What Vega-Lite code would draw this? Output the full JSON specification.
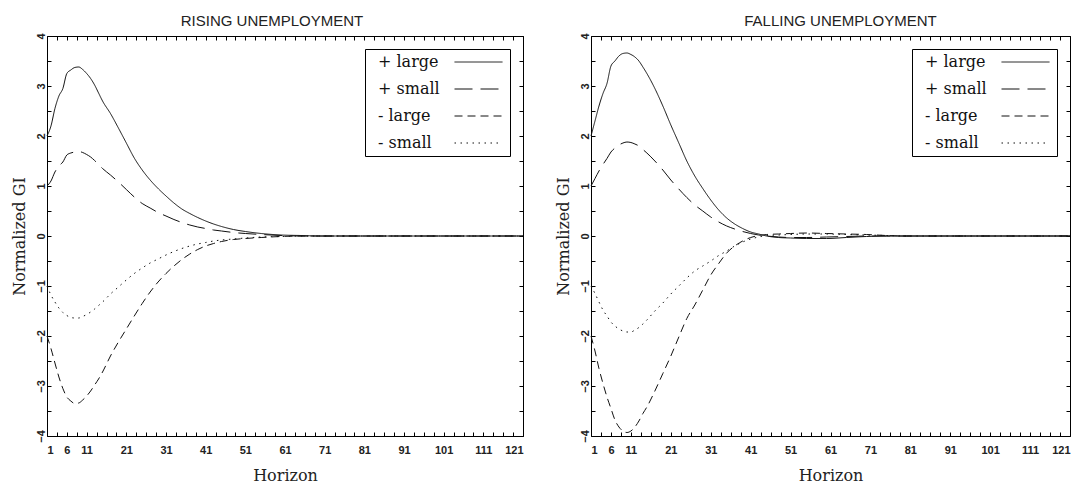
{
  "$schema": "https://vega.github.io/schema/vega-lite/v6.json",
  "background": "white",
  "padding": {"left": 10, "top": 13, "right": 5, "bottom": 5},
  "config": {
    "view": {"stroke": "#000", "strokeWidth": 1},
    "font": "Liberation Sans",
    "concat": {"spacing": 28},
    "axis": {"domain": false, "grid": false, "tickColor": "#000", "tickSize": -4, "tickWidth": 1, "labelColor": "#222", "labelFont": "Liberation Sans", "labelFontSize": 11, "labelFontWeight": "bold", "titleFont": "DejaVu Serif", "titleFontSize": 16, "titleFontWeight": "normal", "titleColor": "#222"},
    "legend": {"orient": "top-right", "offset": 13, "title": null, "symbolType": "M12.75,0H20.75", "symbolSize": 144, "symbolStrokeWidth": 1, "symbolStrokeColor": "#111", "labelFont": "DejaVu Serif", "labelFontSize": 16, "labelColor": "#111", "labelOffset": -8, "labelAlign": "left", "strokeColor": "#000", "fillColor": "white", "padding": 5, "rowPadding": 11, "labelLimit": 0},
    "title": {"font": "Liberation Sans", "fontSize": 15, "fontWeight": "normal", "color": "#222", "offset": 4}
  },
  "datasets": {
    "rising": [
      {"h": 1, "pl": 2.0, "ps": 1.0, "nl": -2.0, "ns": -1.0},
      {"h": 2, "pl": 2.2, "ps": 1.1, "nl": -2.25, "ns": -1.18},
      {"h": 3, "pl": 2.55, "ps": 1.28, "nl": -2.54, "ns": -1.32},
      {"h": 4, "pl": 2.8, "ps": 1.4, "nl": -2.82, "ns": -1.44},
      {"h": 5, "pl": 2.95, "ps": 1.48, "nl": -3.05, "ns": -1.53},
      {"h": 6, "pl": 3.25, "ps": 1.62, "nl": -3.22, "ns": -1.59},
      {"h": 7, "pl": 3.32, "ps": 1.66, "nl": -3.3, "ns": -1.63},
      {"h": 8, "pl": 3.37, "ps": 1.68, "nl": -3.35, "ns": -1.64},
      {"h": 9, "pl": 3.38, "ps": 1.69, "nl": -3.34, "ns": -1.64},
      {"h": 10, "pl": 3.33, "ps": 1.67, "nl": -3.28, "ns": -1.61},
      {"h": 11, "pl": 3.25, "ps": 1.63, "nl": -3.2, "ns": -1.57},
      {"h": 12, "pl": 3.15, "ps": 1.58, "nl": -3.1, "ns": -1.52},
      {"h": 13, "pl": 3.02, "ps": 1.51, "nl": -2.98, "ns": -1.46},
      {"h": 14, "pl": 2.86, "ps": 1.43, "nl": -2.86, "ns": -1.39},
      {"h": 15, "pl": 2.7, "ps": 1.35, "nl": -2.72, "ns": -1.32},
      {"h": 17, "pl": 2.45, "ps": 1.22, "nl": -2.4, "ns": -1.16},
      {"h": 19, "pl": 2.16, "ps": 1.08, "nl": -2.12, "ns": -1.02},
      {"h": 21, "pl": 1.86, "ps": 0.93, "nl": -1.86, "ns": -0.88},
      {"h": 23, "pl": 1.56, "ps": 0.78, "nl": -1.6, "ns": -0.75},
      {"h": 25, "pl": 1.32, "ps": 0.65, "nl": -1.35, "ns": -0.64},
      {"h": 27, "pl": 1.12, "ps": 0.56, "nl": -1.12, "ns": -0.54},
      {"h": 29, "pl": 0.95, "ps": 0.47, "nl": -0.92, "ns": -0.46},
      {"h": 31, "pl": 0.8, "ps": 0.4, "nl": -0.75, "ns": -0.38},
      {"h": 33, "pl": 0.66, "ps": 0.33, "nl": -0.6, "ns": -0.31},
      {"h": 35, "pl": 0.54, "ps": 0.27, "nl": -0.47, "ns": -0.25},
      {"h": 37, "pl": 0.45, "ps": 0.22, "nl": -0.36, "ns": -0.2},
      {"h": 39, "pl": 0.37, "ps": 0.18, "nl": -0.27, "ns": -0.16},
      {"h": 41, "pl": 0.3, "ps": 0.15, "nl": -0.2, "ns": -0.13},
      {"h": 43, "pl": 0.24, "ps": 0.12, "nl": -0.15, "ns": -0.1},
      {"h": 45, "pl": 0.19, "ps": 0.1, "nl": -0.11, "ns": -0.08},
      {"h": 48, "pl": 0.13, "ps": 0.07, "nl": -0.07, "ns": -0.06},
      {"h": 51, "pl": 0.09, "ps": 0.05, "nl": -0.05, "ns": -0.04},
      {"h": 55, "pl": 0.05, "ps": 0.03, "nl": -0.03, "ns": -0.02},
      {"h": 60, "pl": 0.02, "ps": 0.01, "nl": -0.01, "ns": -0.01},
      {"h": 65, "pl": 0.01, "ps": 0.0, "nl": 0.0, "ns": 0.0},
      {"h": 70, "pl": 0.0, "ps": 0.0, "nl": 0.0, "ns": 0.0},
      {"h": 80, "pl": 0.0, "ps": 0.0, "nl": 0.0, "ns": 0.0},
      {"h": 121, "pl": 0.0, "ps": 0.0, "nl": 0.0, "ns": 0.0}
    ],
    "falling": [
      {"h": 1, "pl": 2.0, "ps": 1.0, "nl": -2.0, "ns": -1.0},
      {"h": 2, "pl": 2.3, "ps": 1.15, "nl": -2.3, "ns": -1.15},
      {"h": 3, "pl": 2.6, "ps": 1.3, "nl": -2.65, "ns": -1.32},
      {"h": 4, "pl": 2.85, "ps": 1.43, "nl": -2.95, "ns": -1.48},
      {"h": 5, "pl": 3.05, "ps": 1.55, "nl": -3.22, "ns": -1.6},
      {"h": 6, "pl": 3.4, "ps": 1.68, "nl": -3.45, "ns": -1.72},
      {"h": 7, "pl": 3.5, "ps": 1.76, "nl": -3.68, "ns": -1.8},
      {"h": 8, "pl": 3.6, "ps": 1.82, "nl": -3.82, "ns": -1.86},
      {"h": 9, "pl": 3.65, "ps": 1.86, "nl": -3.9, "ns": -1.9},
      {"h": 10, "pl": 3.66, "ps": 1.88, "nl": -3.93, "ns": -1.92},
      {"h": 11, "pl": 3.63, "ps": 1.87, "nl": -3.9, "ns": -1.92},
      {"h": 12, "pl": 3.58, "ps": 1.84, "nl": -3.82, "ns": -1.88},
      {"h": 13, "pl": 3.5, "ps": 1.8, "nl": -3.7, "ns": -1.83},
      {"h": 14, "pl": 3.38, "ps": 1.73, "nl": -3.55, "ns": -1.76},
      {"h": 15, "pl": 3.25, "ps": 1.66, "nl": -3.42, "ns": -1.68},
      {"h": 17, "pl": 2.95, "ps": 1.5, "nl": -3.1, "ns": -1.5},
      {"h": 19, "pl": 2.6, "ps": 1.32, "nl": -2.75, "ns": -1.34},
      {"h": 21, "pl": 2.22, "ps": 1.12, "nl": -2.4, "ns": -1.16},
      {"h": 23, "pl": 1.86, "ps": 0.94, "nl": -2.02, "ns": -1.0},
      {"h": 25, "pl": 1.5, "ps": 0.77, "nl": -1.65, "ns": -0.84},
      {"h": 27, "pl": 1.2, "ps": 0.62, "nl": -1.38, "ns": -0.7},
      {"h": 29, "pl": 0.95, "ps": 0.5, "nl": -1.08, "ns": -0.6},
      {"h": 31, "pl": 0.72, "ps": 0.38, "nl": -0.78, "ns": -0.5},
      {"h": 33, "pl": 0.52, "ps": 0.28, "nl": -0.55, "ns": -0.39},
      {"h": 35, "pl": 0.36, "ps": 0.2, "nl": -0.34, "ns": -0.3},
      {"h": 37, "pl": 0.24, "ps": 0.14, "nl": -0.2, "ns": -0.2},
      {"h": 39, "pl": 0.15, "ps": 0.09, "nl": -0.1, "ns": -0.12},
      {"h": 41, "pl": 0.08, "ps": 0.05, "nl": -0.03, "ns": -0.06},
      {"h": 43, "pl": 0.04, "ps": 0.02, "nl": 0.01, "ns": -0.02},
      {"h": 45, "pl": 0.0, "ps": 0.0, "nl": 0.03, "ns": 0.01},
      {"h": 48, "pl": -0.03, "ps": -0.02, "nl": 0.04, "ns": 0.02},
      {"h": 51, "pl": -0.04, "ps": -0.03, "nl": 0.05, "ns": 0.03},
      {"h": 55, "pl": -0.05, "ps": -0.03, "nl": 0.06, "ns": 0.04},
      {"h": 60, "pl": -0.05, "ps": -0.02, "nl": 0.05, "ns": 0.04},
      {"h": 65, "pl": -0.03, "ps": -0.01, "nl": 0.04, "ns": 0.03},
      {"h": 70, "pl": -0.01, "ps": 0.0, "nl": 0.03, "ns": 0.02},
      {"h": 75, "pl": 0.0, "ps": 0.0, "nl": 0.01, "ns": 0.01},
      {"h": 80, "pl": 0.0, "ps": 0.0, "nl": 0.0, "ns": 0.0},
      {"h": 121, "pl": 0.0, "ps": 0.0, "nl": 0.0, "ns": 0.0}
    ]
  },
  "hconcat": [
    {
      "title": {"text": "RISING UNEMPLOYMENT", "dx": -13},
      "width": 476,
      "height": 400,
      "data": {"name": "rising"},
      "transform": [{"fold": ["pl", "ps", "nl", "ns"], "as": ["s", "v"]}],
      "layer": [
        {
          "mark": {"type": "line", "color": "#111", "strokeWidth": 1, "interpolate": "monotone"},
          "encoding": {
            "x": {"field": "h", "type": "quantitative", "scale": {"domain": [1, 121], "nice": false, "zero": false},
              "axis": {"orient": "bottom", "title": "Horizon", "labelPadding": 12, "titlePadding": 12,
                "values": [1,3.5,6,8.5,11,13.5,16,18.5,21,23.5,26,28.5,31,33.5,36,38.5,41,43.5,46,48.5,51,53.5,56,58.5,61,63.5,66,68.5,71,73.5,76,78.5,81,83.5,86,88.5,91,93.5,96,98.5,101,103.5,106,108.5,111,113.5,116,118.5,121],
                "labelExpr": "indexof([1,6,11,21,31,41,51,61,71,81,91,101,111,121], datum.value) >= 0 ? format(datum.value, 'd') : ''"}},
            "y": {"field": "v", "type": "quantitative", "scale": {"domain": [-4, 4], "nice": false, "zero": false},
              "axis": {"orient": "left", "title": "Normalized GI", "labelAngle": 270, "labelPadding": 5, "titlePadding": 8,
                "values": [-4,-3.5,-3,-2.5,-2,-1.5,-1,-0.5,0,0.5,1,1.5,2,2.5,3,3.5,4],
                "labelExpr": "datum.value % 1 === 0 ? format(datum.value, 'd') : ''"}},
            "strokeDash": {"field": "s", "type": "nominal", "sort": null,
              "scale": {"domain": ["pl", "ps", "nl", "ns"], "range": [[1, 0], [18, 8], [8, 5], [1.5, 4.5]]},
              "legend": {"labelExpr": "{'pl': '+ large', 'ps': '+ small', 'nl': '- large', 'ns': '- small'}[datum.value]"}}
          }
        },
        {
          "mark": {"type": "line", "opacity": 0},
          "encoding": {
            "x": {"field": "h", "type": "quantitative", "scale": {"domain": [1, 121], "nice": false, "zero": false},
              "axis": {"orient": "top", "title": null, "labels": false,
                "values": [1,3.5,6,8.5,11,13.5,16,18.5,21,23.5,26,28.5,31,33.5,36,38.5,41,43.5,46,48.5,51,53.5,56,58.5,61,63.5,66,68.5,71,73.5,76,78.5,81,83.5,86,88.5,91,93.5,96,98.5,101,103.5,106,108.5,111,113.5,116,118.5,121]}},
            "y": {"field": "v", "type": "quantitative", "scale": {"domain": [-4, 4], "nice": false, "zero": false},
              "axis": {"orient": "right", "title": null, "labels": false,
                "values": [-4,-3.5,-3,-2.5,-2,-1.5,-1,-0.5,0,0.5,1,1.5,2,2.5,3,3.5,4]}},
            "detail": {"field": "s", "type": "nominal"}
          }
        }
      ],
      "resolve": {"axis": {"x": "independent", "y": "independent"}}
    },
    {
      "title": {"text": "FALLING UNEMPLOYMENT", "dx": 10},
      "width": 479,
      "height": 400,
      "data": {"name": "falling"},
      "transform": [{"fold": ["pl", "ps", "nl", "ns"], "as": ["s", "v"]}],
      "layer": [
        {
          "mark": {"type": "line", "color": "#111", "strokeWidth": 1, "interpolate": "monotone"},
          "encoding": {
            "x": {"field": "h", "type": "quantitative", "scale": {"domain": [1, 121], "nice": false, "zero": false},
              "axis": {"orient": "bottom", "title": "Horizon", "labelPadding": 12, "titlePadding": 12,
                "values": [1,3.5,6,8.5,11,13.5,16,18.5,21,23.5,26,28.5,31,33.5,36,38.5,41,43.5,46,48.5,51,53.5,56,58.5,61,63.5,66,68.5,71,73.5,76,78.5,81,83.5,86,88.5,91,93.5,96,98.5,101,103.5,106,108.5,111,113.5,116,118.5,121],
                "labelExpr": "indexof([1,6,11,21,31,41,51,61,71,81,91,101,111,121], datum.value) >= 0 ? format(datum.value, 'd') : ''"}},
            "y": {"field": "v", "type": "quantitative", "scale": {"domain": [-4, 4], "nice": false, "zero": false},
              "axis": {"orient": "left", "title": "Normalized GI", "labelAngle": 270, "labelPadding": 5, "titlePadding": 8,
                "values": [-4,-3.5,-3,-2.5,-2,-1.5,-1,-0.5,0,0.5,1,1.5,2,2.5,3,3.5,4],
                "labelExpr": "datum.value % 1 === 0 ? format(datum.value, 'd') : ''"}},
            "strokeDash": {"field": "s", "type": "nominal", "sort": null,
              "scale": {"domain": ["pl", "ps", "nl", "ns"], "range": [[1, 0], [18, 8], [8, 5], [1.5, 4.5]]},
              "legend": {"labelExpr": "{'pl': '+ large', 'ps': '+ small', 'nl': '- large', 'ns': '- small'}[datum.value]"}}
          }
        },
        {
          "mark": {"type": "line", "opacity": 0},
          "encoding": {
            "x": {"field": "h", "type": "quantitative", "scale": {"domain": [1, 121], "nice": false, "zero": false},
              "axis": {"orient": "top", "title": null, "labels": false,
                "values": [1,3.5,6,8.5,11,13.5,16,18.5,21,23.5,26,28.5,31,33.5,36,38.5,41,43.5,46,48.5,51,53.5,56,58.5,61,63.5,66,68.5,71,73.5,76,78.5,81,83.5,86,88.5,91,93.5,96,98.5,101,103.5,106,108.5,111,113.5,116,118.5,121]}},
            "y": {"field": "v", "type": "quantitative", "scale": {"domain": [-4, 4], "nice": false, "zero": false},
              "axis": {"orient": "right", "title": null, "labels": false,
                "values": [-4,-3.5,-3,-2.5,-2,-1.5,-1,-0.5,0,0.5,1,1.5,2,2.5,3,3.5,4]}},
            "detail": {"field": "s", "type": "nominal"}
          }
        }
      ],
      "resolve": {"axis": {"x": "independent", "y": "independent"}}
    }
  ],
  "resolve": {"scale": {"strokeDash": "independent"}, "legend": {"strokeDash": "independent"}}
}
